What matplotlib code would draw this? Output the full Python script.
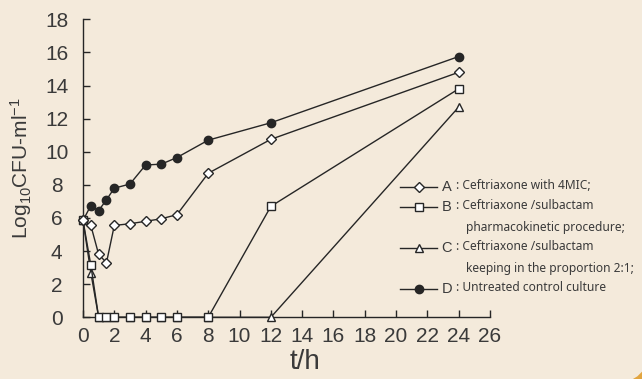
import matplotlib
matplotlib.use('Agg')
import matplotlib.pyplot as plt
from matplotlib.patches import FancyBboxPatch
from matplotlib.lines import Line2D

plt.rcParams['font.family'] = ['Liberation Sans', 'DejaVu Sans']
plt.rcParams['mathtext.default'] = 'regular'

# time points (h)
t = [0, 0.5, 1, 1.5, 2, 3, 4, 5, 6, 8, 12, 24]

# log10 CFU/ml for each group
A = [5.85, 5.55, 3.8, 3.3, 5.55, 5.65, 5.8, 5.95, 6.2, 8.7, 10.75, 14.8]
B = [5.85, 3.15, 0, 0, 0, 0, 0, 0, 0, 0, 6.7, 13.8]
C = [5.85, 2.7, 0, 0, 0, 0, 0, 0, 0, 0, 0, 12.7]
D = [5.85, 6.75, 6.45, 7.1, 7.8, 8.05, 9.2, 9.25, 9.65, 10.7, 11.75, 15.75]

xticks = list(range(0, 27, 2))
yticks = list(range(0, 19, 2))

legend_rows = [
    ('A', ': Ceftriaxone with 4MIC;', None),
    ('B', ': Ceftriaxone /sulbactam', 'pharmacokinetic procedure;'),
    ('C', ': Ceftriaxone /sulbactam', 'keeping in the proportion 2:1;'),
    ('D', ': Untreated control culture', None),
]

bg = '#f4eadb'
ink = '#262626'
txt = '#3a3a3a'

fig = plt.figure(figsize=(6.42, 3.79), dpi=100, facecolor='#e2a540')
# beige panel with rounded corner (only bottom-right corner shows)
panel = FancyBboxPatch((-50, -5), 700, 434, boxstyle='round,pad=0,rounding_size=40',
                       transform=None, facecolor=bg, edgecolor='none', zorder=-10)
fig.add_artist(panel)

W, H = 642, 379
ax = fig.add_axes([83 / W, 1 - 317.3 / H, 407 / W, 298 / H])
ax.set_facecolor('none')

styles = [
    (A, 'D', 'white', 4.8),
    (B, 's', 'white', 5.8),
    (C, '^', 'white', 5.8),
    (D, 'o', ink, 6.0),
]
handles = []
for i, (vals, m, fc, ms) in enumerate(styles):
    ln, = ax.plot(t, vals, color=ink, lw=1.0, marker=m, ms=ms, mfc=fc, mec=ink,
                  mew=1.0, clip_on=False, zorder=3 + (3 - i))
    handles.append(ln)

ax.set_xlim(0, 26)
ax.set_ylim(0, 18)
ax.set_xticks(xticks)
ax.set_yticks(yticks)
for s in ['top', 'right']:
    ax.spines[s].set_visible(False)
for s in ['left', 'bottom']:
    ax.spines[s].set_color(ink)
    ax.spines[s].set_linewidth(1.0)
ax.tick_params(axis='both', direction='in', length=5, width=1.0, color=ink,
               labelsize=15, labelcolor=txt)
ax.tick_params(axis='x', pad=7)
ax.tick_params(axis='y', pad=19)
for lab in ax.get_yticklabels():
    lab.set_horizontalalignment('center')

ax.set_ylabel('Log$_{10}$CFU-ml$^{-1}$', fontsize=15, color=txt)
ax.yaxis.set_label_coords(-0.12, 0.5)
ax.set_xlabel('t/h', fontsize=20, color=txt)
ax.xaxis.set_label_coords((305 - 83) / 407, -0.105)

# legend drawn by hand
row_y = [186.7, 206.7, 247.7, 288.7]
for (letter, first, second), h, y in zip(legend_rows, handles, row_y):
    fy = 1 - y / H
    fig.add_artist(Line2D([400 / W, 437 / W], [fy, fy], color=ink, lw=1.0))
    fig.add_artist(Line2D([418.5 / W], [fy], marker=h.get_marker(), ms=h.get_markersize(),
                          mfc=h.get_markerfacecolor(), mec=ink, mew=1.0, linestyle='none'))
    fig.text(441.5 / W, fy, letter, fontsize=10.5, color=txt, va='center', ha='left')
    fig.text(455.5 / W, fy + 1 / H, first, fontsize=8.6, color=txt, va='center', ha='left',
             family=['Noto Sans', 'DejaVu Sans'])
    if second:
        fig.text(465.5 / W, 1 - (y + 20.6) / H, second, fontsize=8.6, color=txt,
                 va='center', ha='left', family=['Noto Sans', 'DejaVu Sans'])

fig.savefig('out.png', dpi=100, facecolor=fig.get_facecolor())
